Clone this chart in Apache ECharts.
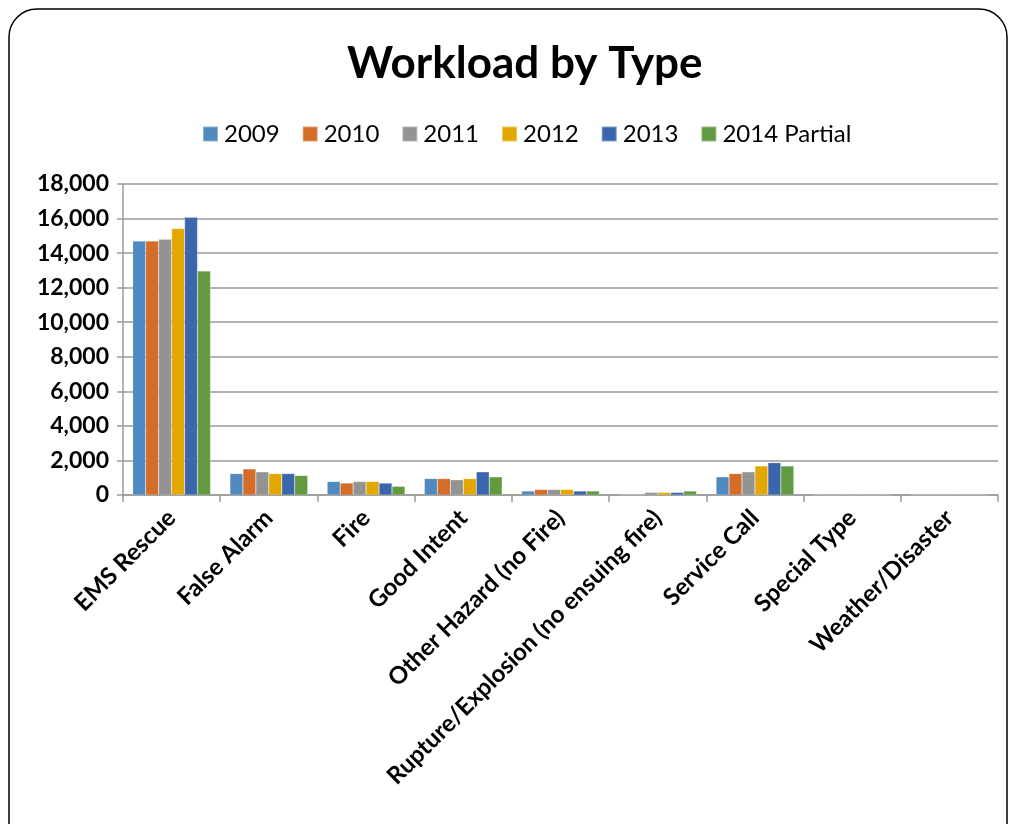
<!DOCTYPE html>
<html><head><meta charset="utf-8">
<script src="https://cdn.jsdelivr.net/npm/echarts@6/dist/echarts.min.js"></script>
<style>html,body{margin:0;padding:0;background:#fff}#c{width:1016px;height:824px}</style>
</head><body><div id="c"></div>
<script>
const categories = ["EMS Rescue","False Alarm","Fire","Good Intent","Other Hazard (no Fire)","Rupture/Explosion (no ensuing fire)","Service Call","Special Type","Weather/Disaster"];
const seriesNames = ["2009","2010","2011","2012","2013","2014 Partial"];
const v2009 = [14700,1240,780,950,230,20,1050,10,15];
const v2010 = [14700,1510,690,950,320,20,1240,10,15];
const v2011 = [14800,1340,780,880,320,150,1340,10,15];
const v2012 = [15430,1240,780,950,320,150,1680,10,25];
const v2013 = [16070,1240,690,1340,230,150,1870,10,15];
const v2014 = [12960,1130,500,1050,230,230,1680,10,15];
const seriesValues = [v2009,v2010,v2011,v2012,v2013,v2014];
const colors = ["#4F89BF","#D46C2A","#939393","#E2A800","#3B66AE","#629A3F"];
const FONT = "Lato";

const chart = echarts.init(document.getElementById('c'));
chart.setOption({
  animation:false,
  color: colors,
  title:{text:"Workload by Type", left:342, top:37,
    textStyle:{fontFamily:FONT,fontSize:44,fontWeight:'bold',color:'#000'}},
  legend:{top:117,left:197,itemWidth:15,itemHeight:15,itemGap:22,icon:'rect',
    textStyle:{fontFamily:FONT,fontSize:24,color:'#000',padding:[0,0,0,1]}},
  grid:{left:123,right:18,top:184,bottom:329,containLabel:false},
  xAxis:{type:'category',data:categories,
    axisLine:{lineStyle:{color:'#9a9a9a',width:1.5}},
    axisTick:{show:true,length:7,alignWithLabel:false,lineStyle:{color:'#9a9a9a',width:1.5}},
    axisLabel:{rotate:45,interval:0,fontFamily:FONT,fontSize:24,fontWeight:'bold',color:'#000',margin:19}},
  yAxis:{type:'value',min:0,max:18000,interval:2000,
    axisLine:{show:true,lineStyle:{color:'#9a9a9a',width:1.5}},
    axisTick:{show:true,length:6,inside:false,lineStyle:{color:'#9a9a9a',width:1.5}},
    splitLine:{lineStyle:{color:'#9a9a9a',width:1.5}},
    axisLabel:{fontFamily:FONT,fontSize:23,fontWeight:'bold',color:'#000',margin:14,
      formatter:v=>v.toLocaleString('en-US')}},
  series: seriesNames.map((n,i)=>({name:n,type:'bar',data:seriesValues[i],
    barGap:'0%',barCategoryGap:'20%',itemStyle:{borderColor:'rgba(255,255,255,0.35)',borderWidth:0.5}})),
  graphic:[{type:'rect',shape:{x:9,y:9,width:998,height:900,r:28},
    style:{fill:'none',stroke:'#000',lineWidth:1.5},z:-1}]
});
</script></body></html>
